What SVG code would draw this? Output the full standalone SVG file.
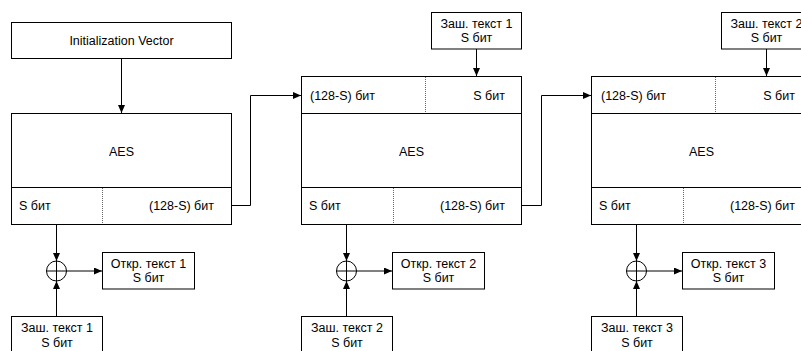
<svg xmlns="http://www.w3.org/2000/svg" width="801" height="351" viewBox="0 0 801 351">
<defs>
<style>
.b{fill:#fff;stroke:#000;stroke-width:1}
.d{stroke:#666;stroke-width:1;stroke-dasharray:1,1;fill:none}
.c{stroke:#000;stroke-width:1;fill:none}
text{font-family:"Liberation Sans",Arial,sans-serif;font-size:12.5px;fill:#000}
.m{text-anchor:middle}
.r{text-anchor:end}
</style>
<marker id="ah" markerWidth="8" markerHeight="7" refX="8" refY="3.5" orient="auto" markerUnits="userSpaceOnUse">
<path d="M0,0 L8,3.5 L0,7 z" fill="#000"/>
</marker>
</defs>
<rect width="801" height="351" fill="#fff"/>

<g id="iv">
<rect class="b" x="11.5" y="22.5" width="220" height="36"/>
<text class="m" x="121.5" y="44.5">Initialization Vector</text>
</g>

<g id="aes1">
<rect class="b" x="11.5" y="113.5" width="220" height="111"/>
<line class="c" x1="11.5" y1="187.5" x2="231.5" y2="187.5"/>
<line class="d" x1="102.5" y1="188" x2="102.5" y2="224"/>
<text class="m" x="121.5" y="155.5">AES</text>
<text x="19" y="210">S бит</text>
<text class="r" x="214" y="210">(128-S) бит</text>
</g>

<g id="aes2">
<rect class="b" x="301.5" y="76.5" width="220" height="148"/>
<line class="c" x1="301.5" y1="113.5" x2="521.5" y2="113.5"/>
<line class="c" x1="301.5" y1="187.5" x2="521.5" y2="187.5"/>
<line class="d" x1="425.5" y1="77" x2="425.5" y2="113"/>
<line class="d" x1="393.5" y1="188" x2="393.5" y2="224"/>
<text x="310" y="100">(128-S) бит</text>
<text class="r" x="505" y="100">S бит</text>
<text class="m" x="411.5" y="155.5">AES</text>
<text x="309" y="210">S бит</text>
<text class="r" x="505" y="210">(128-S) бит</text>
</g>

<g id="aes3">
<rect class="b" x="591.5" y="76.5" width="220" height="148"/>
<line class="c" x1="591.5" y1="113.5" x2="811.5" y2="113.5"/>
<line class="c" x1="591.5" y1="187.5" x2="811.5" y2="187.5"/>
<line class="d" x1="715.5" y1="77" x2="715.5" y2="113"/>
<line class="d" x1="683.5" y1="188" x2="683.5" y2="224"/>
<text x="601" y="100">(128-S) бит</text>
<text class="r" x="795" y="100">S бит</text>
<text class="m" x="701.5" y="155.5">AES</text>
<text x="599" y="210">S бит</text>
<text class="r" x="795" y="210">(128-S) бит</text>
</g>

<g id="ct_top1">
<rect class="b" x="431.5" y="12.5" width="90" height="36.5"/>
<text class="m" x="476.5" y="28">Заш. текст 1</text>
<text class="m" x="476.5" y="42">S бит</text>
</g>
<g id="ct_top2">
<rect class="b" x="721.5" y="12.5" width="90" height="36.5"/>
<text class="m" x="766.5" y="28">Заш. текст 2</text>
<text class="m" x="766.5" y="42">S бит</text>
</g>

<g id="xor1"><circle class="c" cx="56.5" cy="271" r="10"/><line class="c" x1="46.5" y1="271" x2="66.5" y2="271"/><line class="c" x1="56.5" y1="261" x2="56.5" y2="281"/></g>
<g id="xor2"><circle class="c" cx="346.5" cy="271" r="10"/><line class="c" x1="336.5" y1="271" x2="356.5" y2="271"/><line class="c" x1="346.5" y1="261" x2="346.5" y2="281"/></g>
<g id="xor3"><circle class="c" cx="636.5" cy="271" r="10"/><line class="c" x1="626.5" y1="271" x2="646.5" y2="271"/><line class="c" x1="636.5" y1="261" x2="636.5" y2="281"/></g>

<g id="pt1"><rect class="b" x="102.5" y="252.5" width="92" height="36.5"/><text class="m" x="148.5" y="268">Откр. текст 1</text><text class="m" x="148.5" y="282">S бит</text></g>
<g id="pt2"><rect class="b" x="392.5" y="252.5" width="92" height="36.5"/><text class="m" x="438.5" y="268">Откр. текст 2</text><text class="m" x="438.5" y="282">S бит</text></g>
<g id="pt3"><rect class="b" x="682.5" y="252.5" width="92" height="36.5"/><text class="m" x="728.5" y="268">Откр. текст 3</text><text class="m" x="728.5" y="282">S бит</text></g>

<g id="ct1"><rect class="b" x="11.5" y="316.5" width="91" height="37"/><text class="m" x="57" y="332">Заш. текст 1</text><text class="m" x="57" y="346.5">S бит</text></g>
<g id="ct2"><rect class="b" x="301.5" y="316.5" width="91" height="37"/><text class="m" x="347" y="332">Заш. текст 2</text><text class="m" x="347" y="346.5">S бит</text></g>
<g id="ct3"><rect class="b" x="591.5" y="316.5" width="91" height="37"/><text class="m" x="637" y="332">Заш. текст 3</text><text class="m" x="637" y="346.5">S бит</text></g>

<g id="connectors">
<line class="c" x1="121.5" y1="59" x2="121.5" y2="113" marker-end="url(#ah)"/>
<polyline class="c" points="232,205.5 250.5,205.5 250.5,95.5 301,95.5" marker-end="url(#ah)"/>
<polyline class="c" points="522,205.5 541.5,205.5 541.5,95.5 591,95.5" marker-end="url(#ah)"/>
<line class="c" x1="476.5" y1="49" x2="476.5" y2="76" marker-end="url(#ah)"/>
<line class="c" x1="766.5" y1="49" x2="766.5" y2="76" marker-end="url(#ah)"/>
<line class="c" x1="56.5" y1="225" x2="56.5" y2="261" marker-end="url(#ah)"/>
<line class="c" x1="346.5" y1="225" x2="346.5" y2="261" marker-end="url(#ah)"/>
<line class="c" x1="636.5" y1="225" x2="636.5" y2="261" marker-end="url(#ah)"/>
<line class="c" x1="56.5" y1="316" x2="56.5" y2="281" marker-end="url(#ah)"/>
<line class="c" x1="346.5" y1="316" x2="346.5" y2="281" marker-end="url(#ah)"/>
<line class="c" x1="636.5" y1="316" x2="636.5" y2="281" marker-end="url(#ah)"/>
<line class="c" x1="66.5" y1="271" x2="102" y2="271" marker-end="url(#ah)"/>
<line class="c" x1="356.5" y1="271" x2="392" y2="271" marker-end="url(#ah)"/>
<line class="c" x1="646.5" y1="271" x2="682" y2="271" marker-end="url(#ah)"/>
</g>
</svg>
